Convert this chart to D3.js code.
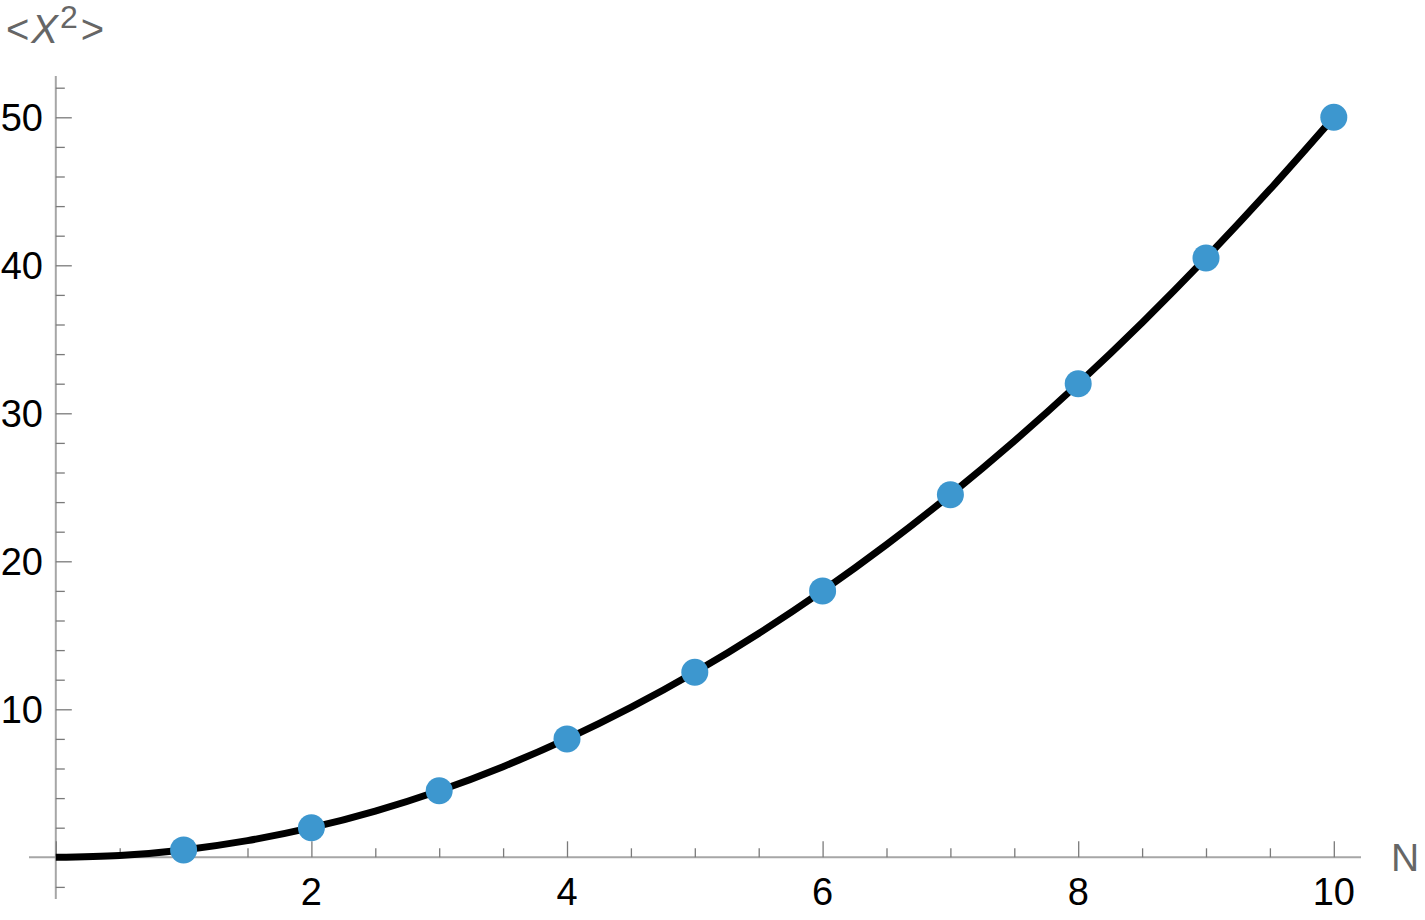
<!DOCTYPE html>
<html><head><meta charset="utf-8">
<script src="https://cdn.jsdelivr.net/npm/d3@7"></script>
<style>body{margin:0;background:#fff}svg{display:block}text{font-family:"Liberation Sans",Arial,sans-serif}</style>
</head><body>
<svg id="c" width="1425" height="920"></svg>
<script>
const pointN = [1,2,3,4,5,6,7,8,9,10];
const pointX2 = [0.5,2,4.5,8,12.5,18,24.5,32,40.5,50];
const curveN = [0,0.5,1,1.5,2,2.5,3,3.5,4,4.5,5,5.5,6,6.5,7,7.5,8,8.5,9,9.5,10];
const curveX2 = [0,0.125,0.5,1.125,2,3.125,4.5,6.125,8,10.125,12.5,15.125,18,21.125,24.5,28.125,32,36.125,40.5,45.125,50];
const xMajor = [2,4,6,8,10];
const yMajor = [10,20,30,40,50];

const svg = d3.select("#c");
const x = d3.scaleLinear().domain([0,10]).range([55.8,1333.8]);
const y = d3.scaleLinear().domain([0,50]).range([857.3,117.3]);

const axisCol = "#a6a6a6", tickCol = "#7a7a7a";

svg.append("line").attr("x1",29).attr("x2",1361).attr("y1",y(0)).attr("y2",y(0))
  .attr("stroke",axisCol).attr("stroke-width",2);
svg.append("line").attr("x1",x(0)).attr("x2",x(0)).attr("y1",76).attr("y2",899)
  .attr("stroke",axisCol).attr("stroke-width",2);

const xAxis = d3.axisTop(x).tickValues(d3.range(0,10.01,0.5)).tickFormat("").tickSizeOuter(0)
  .tickSizeInner(9);
const gx = svg.append("g").attr("transform",`translate(0,${y(0)})`).call(xAxis);
gx.select(".domain").remove();
gx.selectAll(".tick line").attr("stroke",tickCol).attr("stroke-width",1.3)
  .attr("y2",d=> (Math.abs(d%2)<1e-9) ? -16 : -9);

svg.append("g").selectAll("text").data(xMajor).join("text")
  .attr("x",d=>x(d)).attr("y",905).attr("text-anchor","middle")
  .attr("font-size",38).attr("fill","#000").text(d=>d);

const yAxis = d3.axisRight(y).tickValues(d3.range(-2,52.01,2)).tickFormat("").tickSizeOuter(0).tickSizeInner(9);
const gy = svg.append("g").attr("transform",`translate(${x(0)},0)`).call(yAxis);
gy.select(".domain").remove();
gy.selectAll(".tick line").attr("stroke",tickCol).attr("stroke-width",1.3)
  .attr("x2",d=> (Math.abs(d%10)<1e-9) ? 16 : 9);

svg.append("g").selectAll("text").data(yMajor).join("text")
  .attr("x",43).attr("y",d=>y(d)+14).attr("text-anchor","end")
  .attr("font-size",38).attr("fill","#000").text(d=>d);

const line = d3.line().x((d,i)=>x(curveN[i])).y((d,i)=>y(curveX2[i])).curve(d3.curveMonotoneX);
svg.append("path").attr("d",line(curveN)).attr("fill","none").attr("stroke","#000")
  .attr("stroke-width",7);

svg.append("g").selectAll("circle").data(pointN).join("circle")
  .attr("cx",(d,i)=>x(pointN[i])).attr("cy",(d,i)=>y(pointX2[i])).attr("r",13.5)
  .attr("fill","#3d97cf");

const yl = svg.append("text").attr("x",6).attr("y",43).attr("font-size",40).attr("fill","#666");
yl.append("tspan").text("<");
yl.append("tspan").attr("font-style","italic").attr("dx",2).text("X");
yl.append("tspan").attr("dy",-15).attr("dx",2).attr("font-size",32).text("2");
yl.append("tspan").attr("dy",15).attr("dx",3).text(">");

svg.append("text").attr("x",1391).attr("y",871).attr("font-size",39).attr("fill","#666").text("N");
</script>
</body></html>
